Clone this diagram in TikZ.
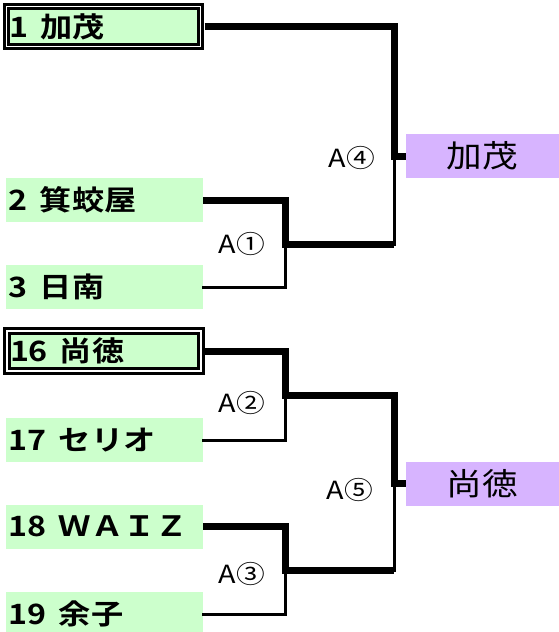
\documentclass[tikz,border=0pt]{standalone}
\usepackage{fontspec}
\newfontfamily\jpfont[FakeStretch=1.15,BoldFont={Noto Sans CJK JP Bold},BoldFeatures={FakeStretch=1.15}]{Noto Sans CJK JP}
\definecolor{teamgreen}{RGB}{204,255,204}
\definecolor{winpurple}{RGB}{215,180,255}
\newcommand{\tname}[2]{#1\hspace{12pt}#2}

\begin{document}
\begin{tikzpicture}[x=1pt,y=-1pt,
		team/.style={fill=teamgreen,minimum width=197pt,minimum height=44pt,text width=191pt,inner xsep=3pt,inner ysep=0pt,outer sep=0pt,align=left,font=\jpfont\bfseries\fontsize{28pt}{28pt}\selectfont},
		seed/.style={team,draw,line width=3pt,double=white,double distance=1.5pt,minimum width=194pt,minimum height=40pt,text width=188pt,outer xsep=4pt},
		final/.style={fill=winpurple,minimum width=153pt,minimum height=44pt,inner sep=0pt,outer sep=0pt,font=\jpfont\fontsize{31pt}{31pt}\selectfont},
		game/.style={inner sep=0pt,font=\jpfont\fontsize{25pt}{25pt}\selectfont},
		win/.style={line width=7pt,line join=miter},
		lose/.style={line width=3pt,line cap=rect}]
	\useasboundingbox (0,0) rectangle (559,632);

	\node[seed] (t1) at (103.5,26.5) {\tname{1}{加茂}};
	\node[team] (t2) at (104.5,200) {\tname{2}{箕蛟屋}};
	\node[team] (t3) at (104.5,287) {\tname{3}{日南}};
	\node[seed] (t16) at (104,351) {\tname{16}{尚徳}};
	\node[team] (t17) at (104.5,440) {\tname{17}{セリオ}};
	\node[team] (t18) at (104.5,526.5) {\tname{18}{ＷＡＩＺ}};
	\node[team] (t19) at (104.5,614) {\tname{19}{余子}};

	\node[final] (w4) at (482.5,156) {加茂};
	\node[final] (w5) at (482.5,483.5) {尚徳};

	\coordinate (a1) at (285,244);
	\coordinate (a2) at (285,395);
	\coordinate (a3) at (285,570);
	\coordinate (a4) at (394,156);
	\coordinate (a5) at (394,483.5);

	\draw[win] (t2.east) -| (a1) -- (a1 -| a4);
	\draw[lose] (t3.east) -| (a1);
	\draw[win] (t1.east) -| (a4) -- (w4.west);
	\draw[lose] (a4) -- (a1 -| a4);

	\draw[win] (t16.east) -| (a2) -- (a2 -| a5) -- (a5) -- (w5.west);
	\draw[lose] (t17.east) -| (a2);
	\draw[win] (t18.east) -| (a3) -- (a3 -| a5);
	\draw[lose] (t19.east) -| (a3);
	\draw[lose] (a5) -- (a3 -| a5);

	\node[game] (g1) at (242,243.5) {A①};
	\node[game] (g2) at (242,403) {A②};
	\node[game] (g3) at (242,574) {A③};
	\node[game] (g4) at (352,158) {A④};
	\node[game] (g5) at (350,490) {A⑤};
\end{tikzpicture}
\end{document}
